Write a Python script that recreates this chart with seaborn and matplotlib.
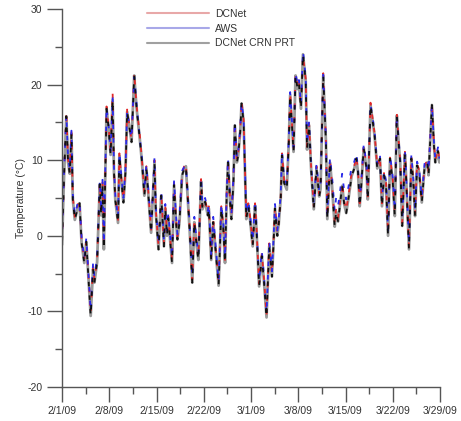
import matplotlib
matplotlib.use("Agg")
import matplotlib.pyplot as plt
import matplotlib.dates as mdates
from matplotlib.lines import Line2D
import numpy as np
import pandas as pd
import seaborn as sns

# days after 2/1/09 00:00 and temperatures (deg C)
days = [0.00, 0.30, 0.64, 0.90, 1.15, 1.40, 1.60, 1.90, 2.40, 2.60, 2.90, 3.30, 3.60, 3.85, 4.25, 4.60, 4.80, 5.20, 5.60, 5.80,
        6.00, 6.20, 6.60, 6.90, 7.20, 7.50, 7.70, 7.90, 8.30, 8.50, 8.80, 9.10, 9.40, 9.65, 10.00, 10.30, 10.50, 10.70, 10.90, 11.10,
        11.50, 11.85, 12.20, 12.50, 12.80, 13.20, 13.70, 13.90, 14.30, 14.70, 15.10, 15.30, 15.55, 15.75, 16.30, 16.60, 16.90, 17.10, 17.40, 17.80,
        18.10, 18.35, 18.60, 18.90, 19.30, 19.60, 19.90, 20.20, 20.60, 20.80, 21.20, 21.60, 21.75, 22.10, 22.40, 22.70, 23.20, 23.60, 23.90, 24.15,
        24.40, 24.60, 24.90, 25.10, 25.40, 25.60, 25.90, 26.10, 26.40, 26.60, 26.90, 27.10, 27.30, 27.60, 27.85, 28.25, 28.60, 28.80, 29.20, 29.60,
        29.90, 30.30, 30.70, 31.10, 31.30, 31.55, 31.90, 32.10, 32.40, 32.60, 32.90, 33.30, 33.60, 33.80, 34.00, 34.30, 34.60, 34.90, 35.10, 35.40,
        35.70, 36.10, 36.30, 36.60, 36.90, 37.30, 37.70, 38.10, 38.30, 38.70, 39.10, 39.30, 39.70, 40.00, 40.40, 40.60, 40.90, 41.10, 41.50, 41.80,
        42.10, 42.50, 42.90, 43.30, 43.60, 43.85, 44.10, 44.30, 44.70, 45.10, 45.30, 45.70, 46.10, 46.30, 46.70, 47.10, 47.40, 47.70, 48.00, 48.30,
        48.60, 49.00, 49.30, 49.60, 49.90, 50.10, 50.40, 50.80, 50.96, 51.40, 51.75, 52.10, 52.30, 52.60, 52.90, 53.30, 53.70, 54.10, 54.30, 54.80,
        55.10, 55.30, 55.70, 55.90]

dcnet = [-0.8, 8.0, 16.4, 10.0, 8.5, 13.8, 5.2, 2.5, 4.3, 4.6, -0.5, -3.2, -0.5, -4.2, -10.2, -4.0, -5.8, -3.2, 7.0, 3.0,
         7.1, -1.4, 17.1, 14.5, 11.0, 18.9, 8.7, 5.0, 2.1, 10.9, 7.5, 4.8, 8.7, 16.7, 14.5, 12.7, 17.1, 21.5, 18.9, 16.7,
         13.6, 10.0, 5.7, 9.2, 5.7, 0.8, 10.0, 3.4, -1.4, 5.7, -1.0, 3.9, 0.4, 2.6, -3.2, 7.0, 2.2, -0.1, 2.2, 8.3,
         9.2, 9.6, 5.7, 1.3, -5.8, 2.2, -0.5, -2.8, 7.5, 3.9, 4.8, 3.0, 3.9, -2.8, 2.2, -1.0, -6.3, 3.9, 1.3, -3.2,
         5.7, 10.0, 4.8, 2.6, 7.5, 14.9, 10.0, 10.9, 14.0, 17.8, 15.4, 9.2, 2.6, 4.3, 2.6, -1.0, 4.3, 1.3, -6.3, -2.3,
         -5.4, -10.5, -1.0, -5.0, -1.4, 3.9, 0.4, 1.8, 5.2, 10.9, 7.4, 6.5, 12.7, 18.9, 15.9, 11.4, 21.5, 19.7, 20.4, 17.1,
         23.8, 20.8, 11.8, 14.9, 9.2, 3.9, 9.2, 5.6, 6.5, 21.5, 12.7, 2.6, 10.0, 6.9, 1.8, 3.6, 2.4, 3.9, 7.0, 4.6,
         3.4, 5.7, 8.3, 9.2, 10.5, 8.7, 4.3, 6.5, 11.9, 9.2, 5.2, 17.6, 14.9, 13.6, 9.2, 10.5, 4.3, 8.3, 7.0, 0.4,
         10.5, 7.4, 3.0, 16.2, 12.2, 10.0, 1.7, 11.1, 8.3, -1.4, 10.5, 6.6, 3.0, 9.6, 8.7, 4.8, 9.2, 10.0, 8.3, 17.6,
         12.2, 10.0, 11.5, 10.0]

aws = [-0.3, 8.5, 16.0, 10.4, 8.8, 13.9, 5.5, 2.8, 4.6, 4.4, -0.2, -3.0, -0.3, -4.0, -10.0, -3.6, -5.4, -2.8, 7.3, 3.3,
       7.4, -1.0, 17.0, 14.6, 11.2, 18.3, 9.0, 5.3, 2.4, 11.0, 7.8, 5.0, 8.9, 16.6, 14.4, 12.9, 17.0, 21.0, 19.0, 16.8,
       13.2, 10.2, 6.0, 9.4, 6.0, 1.0, 10.3, 3.7, -1.1, 6.0, -0.7, 4.2, 0.7, 2.9, -2.9, 7.3, 2.5, 0.2, 2.5, 8.6,
       9.1, 9.3, 6.0, 1.6, -5.4, 2.5, -0.2, -2.5, 7.7, 4.2, 5.0, 3.3, 4.2, -2.5, 2.5, -0.7, -6.0, 4.2, 1.6, -2.9,
       6.0, 10.2, 5.1, 2.9, 7.8, 15.1, 10.3, 11.1, 14.2, 17.6, 15.6, 9.5, 2.9, 4.6, 2.9, -0.7, 4.6, 1.6, -6.0, -2.0,
       -5.1, -10.3, -0.7, -4.7, -1.1, 4.2, 0.7, 2.1, 5.5, 11.1, 7.7, 6.8, 12.9, 19.0, 16.1, 11.7, 21.6, 19.9, 20.6, 17.4,
       24.4, 21.0, 12.1, 15.1, 9.5, 4.2, 9.5, 5.9, 6.8, 21.3, 12.9, 2.9, 10.3, 7.9, 3.3, 5.0, 4.0, 5.2, 8.2, 6.0,
       4.8, 6.8, 9.2, 9.8, 10.9, 9.0, 4.6, 6.8, 12.1, 9.5, 5.5, 17.4, 15.1, 13.8, 9.5, 10.7, 4.6, 8.6, 7.3, 0.7,
       10.7, 7.7, 3.3, 16.0, 12.4, 10.2, 2.0, 11.3, 8.6, -1.1, 10.7, 6.9, 3.3, 9.8, 9.0, 5.1, 9.5, 10.2, 8.6, 17.3,
       12.4, 10.2, 11.7, 10.2]

crn_prt = [-1.2, 7.8, 15.8, 9.7, 8.2, 13.5, 4.8, 2.1, 4.0, 4.3, -0.9, -3.6, -0.8, -4.6, -10.6, -4.4, -6.2, -3.5, 6.8, 2.7,
           6.8, -1.8, 16.8, 14.3, 10.7, 18.0, 8.4, 4.7, 1.7, 10.6, 7.2, 4.4, 8.4, 16.4, 14.2, 12.4, 16.8, 21.2, 18.6, 16.4,
           13.0, 9.7, 5.3, 8.9, 5.3, 0.4, 9.7, 3.0, -1.8, 5.3, -1.4, 3.6, 0.0, 2.3, -3.6, 6.7, 1.8, -0.5, 1.8, 8.0,
           8.9, 9.2, 5.3, 0.9, -6.2, 1.8, -0.9, -3.2, 7.2, 3.5, 4.5, 2.7, 3.6, -3.2, 1.8, -1.4, -6.6, 3.6, 0.9, -3.6,
           5.4, 9.7, 4.4, 2.2, 7.2, 14.6, 9.7, 10.6, 13.7, 17.5, 15.1, 8.9, 2.2, 4.0, 2.2, -1.4, 4.0, 0.9, -6.7, -2.7,
           -5.8, -10.8, -1.4, -5.4, -1.8, 3.6, 0.0, 1.5, 4.9, 10.6, 7.0, 6.1, 12.4, 18.6, 15.6, 11.1, 21.2, 19.4, 20.1, 16.8,
           24.0, 20.5, 11.4, 14.6, 8.9, 3.5, 8.9, 5.2, 6.2, 21.2, 12.4, 2.2, 9.7, 6.6, 1.2, 3.2, 1.9, 3.5, 6.6, 4.2,
           3.0, 5.3, 7.9, 8.9, 10.2, 8.4, 3.9, 6.2, 11.6, 8.9, 4.8, 17.3, 14.6, 13.3, 8.9, 10.2, 3.9, 8.0, 6.7, 0.0,
           10.2, 7.1, 2.6, 15.9, 11.9, 9.7, 1.3, 10.8, 8.0, -1.8, 10.2, 6.3, 2.6, 9.3, 8.4, 4.4, 8.9, 9.7, 8.0, 17.3,
           11.9, 9.7, 11.2, 9.7]

series_names = ["DCNet", "AWS", "DCNet CRN PRT"]
tick_labels = ["2/1/09", "2/8/09", "2/15/09", "2/22/09", "3/1/09", "3/8/09", "3/15/09", "3/22/09", "3/29/09"]

start = pd.Timestamp("2009-02-01")
times = start + pd.to_timedelta(days, unit="D")
frames = {name: pd.DataFrame({"time": times, "temp": vals})
          for name, vals in zip(series_names, [dcnet, aws, crn_prt])}

sns.set_style("ticks")
plt.rcParams["font.family"] = ["Liberation Sans", "DejaVu Sans"]
plt.rcParams["axes.unicode_minus"] = False

fig = plt.figure(figsize=(4.61, 4.21), dpi=100)
ax = fig.add_axes([0.1345, 0.0808, 0.820, 0.898])

# pale grey underlay, then the three series dashed so they alternate along the trace
sns.lineplot(data=frames["DCNet CRN PRT"], x="time", y="temp", color="#9a9a9a",
             linewidth=2.0, ax=ax)
colors = {"DCNet": "#e02828", "AWS": "#2a2ae8", "DCNet CRN PRT": "#111111"}
offsets = {"DCNet": 0, "AWS": 2.5, "DCNet CRN PRT": 5}
for name in series_names:
    sns.lineplot(data=frames[name], x="time", y="temp", color=colors[name],
                 linewidth=1.3, linestyle=(offsets[name], (2.5, 5)), ax=ax)

ax.set_ylim(-20, 30)
ax.set_xlim(start, pd.Timestamp("2009-03-29"))
ax.set_yticks([-20, -10, 0, 10, 20, 30])
ax.set_yticks([-15, -5, 5, 15, 25], minor=True)
major = pd.date_range("2009-02-01", "2009-03-29", freq="7D")
minor = pd.date_range("2009-02-04 12:00", "2009-03-29", freq="7D")
ax.set_xticks(mdates.date2num(major))
ax.set_xticklabels(tick_labels)
ax.set_xticks(mdates.date2num(minor), minor=True)

for s in ["top", "right"]:
    ax.spines[s].set_visible(False)
for s in ["left", "bottom"]:
    ax.spines[s].set_color("#555555")
    ax.spines[s].set_linewidth(1.0)
ax.tick_params(which="major", length=11, width=1.0, color="#555555",
               labelsize=7.5, labelcolor="#333333", pad=3)
ax.tick_params(which="minor", length=5, width=1.0, color="#555555")
ax.set_xlabel("")
ax.set_ylabel("Temperature (\u00b0C)", fontsize=7.5, color="#333333", labelpad=1)

handles = [Line2D([], [], color="#e8a8a8", lw=1.5),
           Line2D([], [], color="#a8a8e8", lw=1.5),
           Line2D([], [], color="#a0a0a0", lw=1.5)]
ax.legend(handles, series_names, loc="upper left", bbox_to_anchor=(0.2, 1.025),
          frameon=False, fontsize=7.5, handlelength=6.0, handletextpad=0.5,
          labelspacing=0.45, labelcolor="#333333")

fig.savefig("out.png", dpi=100)
